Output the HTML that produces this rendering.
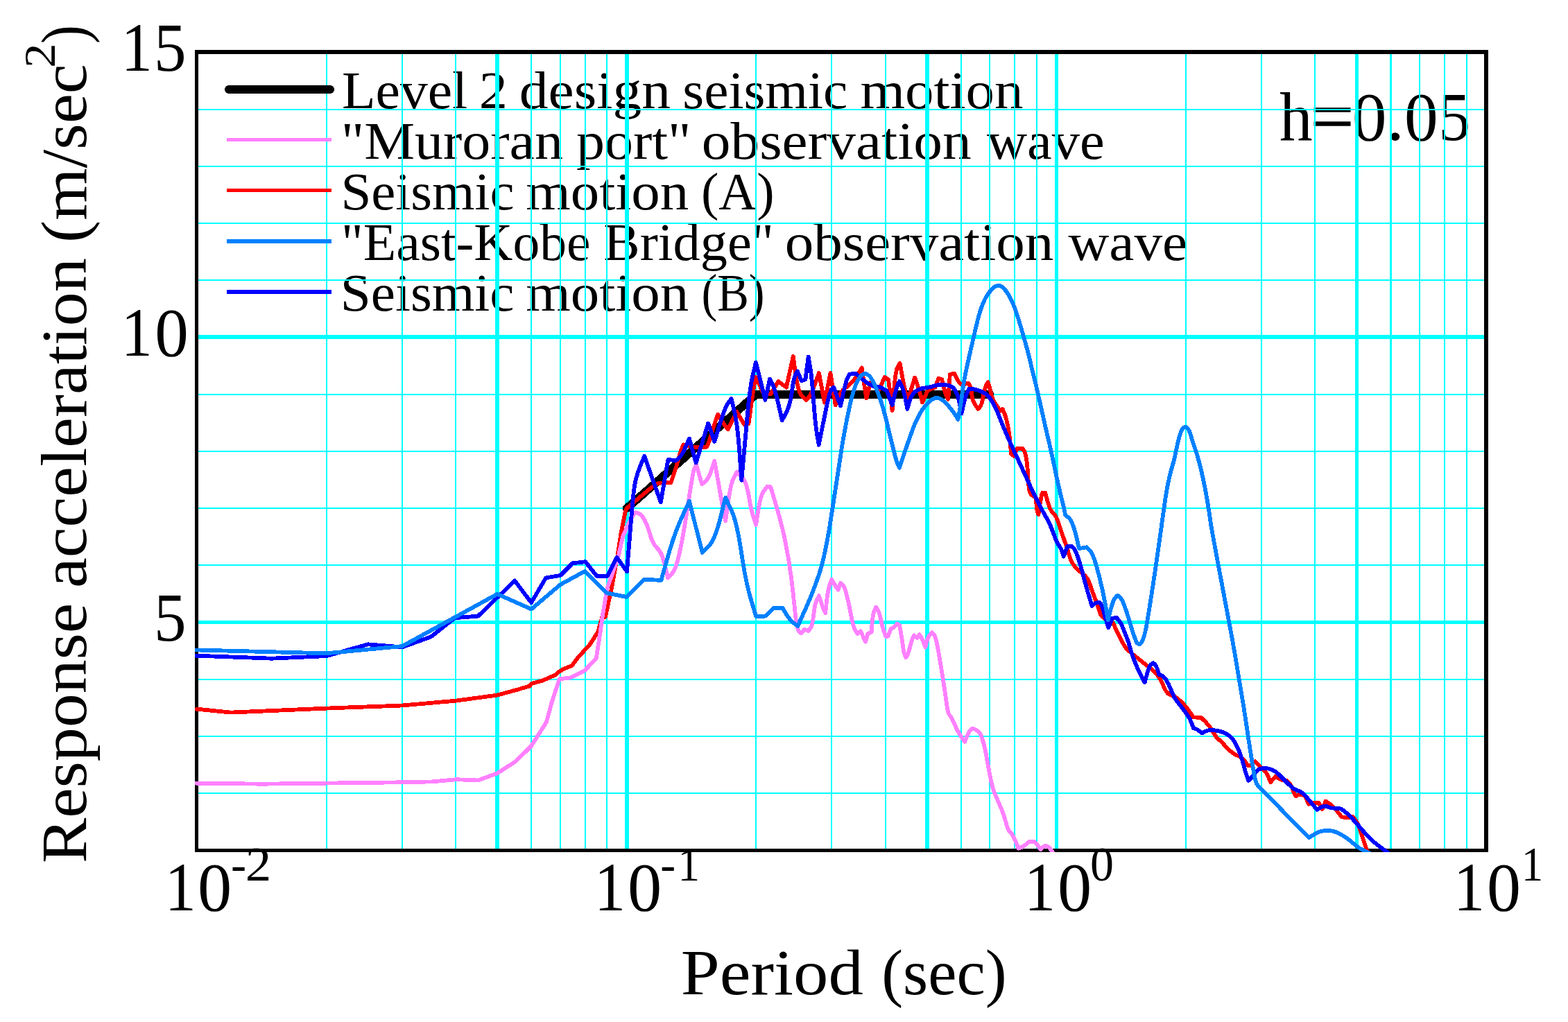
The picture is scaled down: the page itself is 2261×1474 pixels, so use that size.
<!DOCTYPE html>
<html lang="en"><head><meta charset="utf-8"><title>Response acceleration spectra (h=0.05)</title>
<style>html,body{margin:0;padding:0;background:#fff;overflow:hidden}svg{display:block}text{font-family:'Liberation Serif','DejaVu Serif',serif;fill:#000}.g rect{fill:#0ff;shape-rendering:crispEdges}.c polyline,.c path{fill:none;stroke-width:5.8;stroke-linejoin:round;stroke-linecap:butt;shape-rendering:crispEdges}</style></head><body>
<svg width="2261" height="1474" viewBox="0 0 2261 1474">
<rect width="2261" height="1474" fill="#fff"/>
<defs><clipPath id="cp"><rect x="281" y="72" width="1865" height="1157"/></clipPath></defs>
<g id="legend-text">
<text x="492.9" y="155.9" font-size="76" textLength="181.3" lengthAdjust="spacingAndGlyphs">Level</text>
<text x="690.7" y="155.9" font-size="76" textLength="41.2" lengthAdjust="spacingAndGlyphs">2</text>
<text x="748.8" y="155.9" font-size="76" textLength="218.3" lengthAdjust="spacingAndGlyphs">design</text>
<text x="984.3" y="155.9" font-size="76" textLength="238.0" lengthAdjust="spacingAndGlyphs">seismic</text>
<text x="1240.5" y="155.9" font-size="76" textLength="235.1" lengthAdjust="spacingAndGlyphs">motion</text>
<text x="491.8" y="229" font-size="76" textLength="320.1" lengthAdjust="spacingAndGlyphs">&quot;Muroran</text>
<text x="831" y="229" font-size="76" textLength="165.6" lengthAdjust="spacingAndGlyphs">port&quot;</text>
<text x="1011.8" y="229" font-size="76" textLength="388.9" lengthAdjust="spacingAndGlyphs">observation</text>
<text x="1422.9" y="229" font-size="76" textLength="169.7" lengthAdjust="spacingAndGlyphs">wave</text>
<text x="491.4" y="302.2" font-size="76" textLength="250.1" lengthAdjust="spacingAndGlyphs">Seismic</text>
<text x="758.3" y="302.2" font-size="76" textLength="235.0" lengthAdjust="spacingAndGlyphs">motion</text>
<text x="1010.9" y="302.2" font-size="76" textLength="105.8" lengthAdjust="spacingAndGlyphs">(A)</text>
<text x="492.1" y="374.8" font-size="76" textLength="359.4" lengthAdjust="spacingAndGlyphs">&quot;East-Kobe</text>
<text x="870.3" y="374.8" font-size="76" textLength="245.6" lengthAdjust="spacingAndGlyphs">Bridge&quot;</text>
<text x="1131.8" y="374.8" font-size="76" textLength="387.5" lengthAdjust="spacingAndGlyphs">observation</text>
<text x="1540.5" y="374.8" font-size="76" textLength="171.7" lengthAdjust="spacingAndGlyphs">wave</text>
<text x="490.7" y="447.7" font-size="76" textLength="250.8" lengthAdjust="spacingAndGlyphs">Seismic</text>
<text x="758.3" y="447.7" font-size="76" textLength="235.0" lengthAdjust="spacingAndGlyphs">motion</text>
<text x="1011.4" y="447.7" font-size="76" textLength="91.1" lengthAdjust="spacingAndGlyphs">(B)</text>
<text x="1845" y="201.8" font-size="100" textLength="47.5" lengthAdjust="spacingAndGlyphs">h</text>
<text x="1890" y="201.8" font-size="100" textLength="62.0" lengthAdjust="spacingAndGlyphs" stroke="#000" stroke-width="1.6">=</text>
<text x="1949.7" y="201.8" font-size="100" textLength="49.8" lengthAdjust="spacingAndGlyphs">0</text>
<text x="1998" y="201.8" font-size="100" textLength="27.5" lengthAdjust="spacingAndGlyphs">.</text>
<text x="2025" y="201.8" font-size="100" textLength="48.7" lengthAdjust="spacingAndGlyphs">0</text>
<text x="2074.5" y="201.8" font-size="100" textLength="45.7" lengthAdjust="spacingAndGlyphs">5</text>
</g>
<g class="g">
<rect x="470" y="78" width="2" height="1146"/>
<rect x="579" y="78" width="2" height="1146"/>
<rect x="656" y="78" width="2" height="1146"/>
<rect x="714" y="78" width="6" height="1146"/>
<rect x="765" y="78" width="2" height="1146"/>
<rect x="807" y="78" width="2" height="1146"/>
<rect x="843" y="78" width="2" height="1146"/>
<rect x="874" y="78" width="2" height="1146"/>
<rect x="901" y="78" width="6" height="1146"/>
<rect x="1089" y="78" width="2" height="1146"/>
<rect x="1198" y="78" width="2" height="1146"/>
<rect x="1276" y="78" width="2" height="1146"/>
<rect x="1334" y="78" width="6" height="1146"/>
<rect x="1385" y="78" width="2" height="1146"/>
<rect x="1426" y="78" width="2" height="1146"/>
<rect x="1462" y="78" width="2" height="1146"/>
<rect x="1494" y="78" width="2" height="1146"/>
<rect x="1521" y="78" width="5" height="1146"/>
<rect x="1709" y="78" width="2" height="1146"/>
<rect x="1818" y="78" width="2" height="1146"/>
<rect x="1895" y="78" width="2" height="1146"/>
<rect x="1954" y="78" width="5" height="1146"/>
<rect x="2004" y="78" width="3" height="1146"/>
<rect x="2046" y="78" width="2" height="1146"/>
<rect x="2082" y="78" width="2" height="1146"/>
<rect x="2114" y="78" width="2" height="1146"/>
<rect x="286" y="1143" width="1854" height="2"/>
<rect x="286" y="1061" width="1854" height="2"/>
<rect x="286" y="979" width="1854" height="2"/>
<rect x="286" y="895" width="1854" height="5"/>
<rect x="286" y="814" width="1854" height="2"/>
<rect x="286" y="732" width="1854" height="2"/>
<rect x="286" y="650" width="1854" height="2"/>
<rect x="286" y="568" width="1854" height="2"/>
<rect x="286" y="483" width="1854" height="6"/>
<rect x="286" y="403" width="1854" height="2"/>
<rect x="286" y="321" width="1854" height="2"/>
<rect x="286" y="239" width="1854" height="2"/>
<rect x="286" y="157" width="1854" height="2"/>
</g>
<g id="ticks">
<text x="174.7" y="101.9" font-size="100" textLength="45.0" lengthAdjust="spacingAndGlyphs">1</text>
<text x="222" y="101.9" font-size="100" textLength="46.6" lengthAdjust="spacingAndGlyphs">5</text>
<text x="174.7" y="512.9" font-size="100" textLength="45.0" lengthAdjust="spacingAndGlyphs">1</text>
<text x="223.2" y="512.9" font-size="100" textLength="48.6" lengthAdjust="spacingAndGlyphs">0</text>
<text x="222" y="924" font-size="100" textLength="46.6" lengthAdjust="spacingAndGlyphs">5</text>
<text x="237.8" y="1312.9" font-size="100" textLength="45.0" lengthAdjust="spacingAndGlyphs">1</text>
<text x="285" y="1312.9" font-size="100" textLength="49.2" lengthAdjust="spacingAndGlyphs">0</text>
<text x="333" y="1269.9" font-size="70" textLength="22.1" lengthAdjust="spacingAndGlyphs">-</text>
<text x="353.8" y="1269.9" font-size="70" textLength="37.5" lengthAdjust="spacingAndGlyphs">2</text>
<text x="857" y="1312.9" font-size="100" textLength="45.0" lengthAdjust="spacingAndGlyphs">1</text>
<text x="905" y="1312.9" font-size="100" textLength="49.2" lengthAdjust="spacingAndGlyphs">0</text>
<text x="952.3" y="1269.9" font-size="70" textLength="21.9" lengthAdjust="spacingAndGlyphs">-</text>
<text x="977.6" y="1269.9" font-size="70" textLength="31.5" lengthAdjust="spacingAndGlyphs">1</text>
<text x="1477" y="1312.9" font-size="100" textLength="45.0" lengthAdjust="spacingAndGlyphs">1</text>
<text x="1525" y="1312.9" font-size="100" textLength="49.2" lengthAdjust="spacingAndGlyphs">0</text>
<text x="1572" y="1269.9" font-size="70" textLength="34.0" lengthAdjust="spacingAndGlyphs">0</text>
<text x="2096" y="1312.9" font-size="100" textLength="45.0" lengthAdjust="spacingAndGlyphs">1</text>
<text x="2144" y="1312.9" font-size="100" textLength="49.0" lengthAdjust="spacingAndGlyphs">0</text>
<text x="2193.7" y="1269.9" font-size="70" textLength="31.5" lengthAdjust="spacingAndGlyphs">1</text>
</g>
<g fill="#000" shape-rendering="crispEdges">
<rect x="281" y="72" width="1865" height="6"/>
<rect x="281" y="1224" width="1865" height="5"/>
<rect x="281" y="72" width="5" height="1157"/>
<rect x="2140" y="72" width="6" height="1157"/>
</g>
<g class="c" clip-path="url(#cp)">
<polyline points="903.8,733.2 1090.3,568.8 1427.4,568.8" stroke="#000" style="stroke-width:12;stroke-linecap:round"/>
<path d="M281.4 1022.4L333 1027.6L470.9 1021.6L580 1017.5L656.8 1010.7L717.1 1002.6L746.3 994.6L763.6 989.5L766.6 985.9L782.9 981.4L801.2 973.2L805.3 969.2L814.4 964.1L824.6 960L833.6 948.1L850.7 929.4L862.1 911.5L868.7 888.7L872.8 890L881.4 850.9L890.6 801.1L895.6 768.3L901.3 739.8L903.4 733.4L924 715.9Q944.7 698.4 947.9 697.5Q951.2 696.5 959.3 696.2L967.5 696L970.7 686.6Q974 677.3 977.7 664.2Q981.3 651.2 983.4 646.3L985.4 641.4L993.6 643.5Q1001.7 645.5 1010.2 645.1L1018.8 644.7L1020.8 640.6Q1022.9 636.5 1026.1 625.1Q1029.4 613.7 1032.2 605.8L1035.1 597.8L1039.6 605Q1044 612.1 1046.9 615.8L1049.7 619.4L1062.4 594L1073.4 612.4L1079.5 611.1L1082.9 586.1Q1086.3 561.1 1088.1 552.5L1089.9 544L1100.3 566L1111.3 568.4L1122.3 550.1L1133.9 558.6L1143.7 514L1147.3 540Q1151 566 1156.8 571.5L1162.6 576.9L1166.3 572.7Q1169.9 568.4 1175.4 553.1L1180.9 537.9L1188.9 580.6L1197.4 537.9L1204.7 584.3L1208.4 574.5Q1212.1 564.7 1217.9 560.5Q1223.7 556.2 1228.5 551.3Q1233.4 546.4 1238 538.5L1242.6 530.5L1249.3 574.5L1255.4 551.3L1267.6 562.3L1275.6 544L1281.1 547.6L1286.6 592.2L1289 563.2Q1291.5 534.2 1294.5 529L1297.6 523.8L1300.4 539.4Q1303.2 555 1306 566.6L1308.7 578.2L1319.1 544.6L1322.1 552.8Q1325.2 561.1 1327.6 570.8L1330.1 580.6L1337.4 563.5L1348.4 558.6L1353.3 545.8L1358.2 547L1360.6 557.7Q1363.1 568.4 1365.2 572.1L1367.3 575.7L1369.8 540.3L1375.9 538.5L1379.2 545.2Q1382.6 551.9 1385 553.4L1387.5 555L1396 552.5L1398.2 555.6Q1400.3 558.6 1401.2 568.4Q1402.1 578.2 1406.3 584L1410.4 589.8L1413 587Q1415.6 584.3 1418 570.8Q1420.5 557.4 1422.6 554.4L1424.7 551.3L1425.8 555Q1426.9 558.6 1429 567.2Q1431.2 575.7 1433.6 579.4Q1436.1 583.1 1439.2 587.9L1442.4 592.8L1445.5 589.8L1447.6 594.4Q1449.8 598.9 1452.2 609.3Q1454.7 619.7 1456.5 637.4L1458.3 655.1L1462 657.6L1466.9 646.6L1474.2 646.6L1476.3 649.6Q1478.5 652.7 1480 661.8Q1481.5 671 1482.4 688.2Q1483.4 705.5 1484.9 709.5Q1486.4 713.4 1490.1 715.6L1493.7 717.7L1494.4 726.9Q1495 736 1496.2 739.1L1497.4 742.1L1499.2 729.9Q1501.1 717.7 1502 714.4L1502.9 711L1507.2 711L1509.6 719.8Q1512.1 728.7 1513.9 733Q1515.7 737.3 1519.4 740.9Q1523.1 744.6 1525.5 751.9Q1527.9 759.2 1530.4 766.6Q1532.8 773.9 1535.9 782.4Q1538.9 791 1542.1 801.8Q1545.2 812.5 1551.3 818.6Q1557.4 824.7 1562.9 829Q1568.4 833.3 1570.8 840.6Q1573.3 847.9 1576.9 857.7Q1580.6 867.5 1582.4 872.4Q1584.3 877.3 1585.5 882.1Q1586.7 887 1589.8 889.8Q1592.8 892.5 1598.9 895.3L1605 898L1606.3 901.1Q1607.5 904.1 1611.1 911.5Q1614.8 918.8 1618.5 926.1Q1622.1 933.4 1625.7 936.9Q1629.3 940.3 1635.4 945.2Q1641.5 950.1 1647.6 955Q1653.7 959.8 1659.8 964.7Q1666 969.6 1669.6 974.5Q1673.3 979.4 1677.6 989.2Q1681.8 998.9 1684.9 1000.8Q1687.9 1002.6 1691.6 1003.8Q1695.3 1005 1700.8 1009.9Q1706.3 1014.8 1709.3 1018.5Q1712.4 1022.1 1716.6 1028.2L1720.9 1034.4L1731.9 1035L1738 1040.8Q1744.1 1046.6 1748.4 1054.5Q1752.7 1062.4 1756.3 1065.5Q1760 1068.5 1766.1 1075.2Q1772.2 1081.8 1776.5 1085.1Q1780.8 1088.5 1784.4 1089.7Q1788.1 1090.9 1791.1 1093.7Q1794.2 1096.4 1796.6 1100.1L1799.1 1103.7L1802.7 1104.4L1810.1 1098.2L1813.7 1102.2Q1817.4 1106.2 1821.7 1109.8Q1826 1113.5 1829 1120.8L1832.1 1128.2L1839.4 1119.6L1843.1 1122.4Q1846.7 1125.1 1851 1125.4L1855.3 1125.7L1858.9 1129.4Q1862.6 1133.1 1863.8 1137.9Q1865 1142.8 1866.9 1145.6L1868.7 1148.3L1873.6 1145.3L1882.1 1147.7L1887 1159.9L1890.7 1158.7Q1894.4 1157.5 1898 1157.8L1901.7 1158.1L1906.6 1167.3L1911.5 1155.6L1915.1 1157.8Q1918.8 1159.9 1922.4 1163.6Q1926.1 1167.3 1930.4 1172.7L1934.7 1178.2L1938.9 1178.9Q1943.2 1179.5 1946.9 1178.9L1950.5 1178.2L1953 1180.7Q1955.4 1183.1 1957.9 1188.6Q1960.3 1194.1 1962.7 1201.5Q1965.2 1208.8 1968.2 1217.9Q1971.3 1227.1 1972.5 1230.8L1973.7 1234.4" stroke="#ff0000"/>
<path d="M281.4 1129.6L378.6 1130.7L470.9 1129.6L580 1128.3L622.9 1127.4L658.2 1124.2L689.4 1125.5L717.1 1115.2L743.2 1098.4L766.1 1076L788 1041.4L795.1 1014.9L801.2 995.6L806.8 979.3L823.1 977.4L843.4 966.8L859.7 949.7L865.4 913.1L868.5 890L875.7 848.1L884.2 823.9L891.3 803.9L898.5 772.6L902.8 763.4Q907 754.1 909.9 748.4Q912.7 742.7 914.9 740.9L917 739.1L919.9 740.2Q922.7 741.3 925.5 744.1Q928.4 747 931.2 753.4Q934.1 759.8 937.7 771.9Q941.2 784 946.9 789.7Q952.6 795.4 954.8 801.8Q956.9 808.2 960 820.9L963.1 833.6L968.8 827.4Q974.5 821.3 979.3 799.8Q984.2 778.2 988.9 748Q993.5 717.9 996.8 697.6Q1000 677.2 1002.1 673.9L1004.1 670.7L1012.2 698.4L1017.1 694.3Q1022 690.2 1026.1 677.6L1030.2 665L1033 680Q1035.9 695.1 1038.7 712.2Q1041.6 729.3 1043.8 740.3L1046.1 751.3L1050 724Q1053.8 696.7 1058.3 688.6L1062.7 680.5L1069.7 687.8Q1076.6 695.1 1079.8 715.5Q1083.1 735.8 1086.6 746.4L1090.1 757L1093.4 735.8Q1096.6 714.7 1101.5 708.1L1106.4 701.6L1111.3 702.4L1119.4 729.7Q1127.6 757 1132.4 781.4Q1137.3 805.9 1140.6 830.3Q1143.8 854.7 1146.3 880.8Q1148.7 906.8 1152 910.1L1155.2 913.4L1160.1 907.7L1165.8 910.1L1168.7 906Q1171.5 902 1173.2 886.6Q1174.9 871.3 1177.9 865.2L1181 859.1L1183.4 867Q1185.9 875 1188 879.5L1190.2 884.1L1192 867.3Q1193.8 850.5 1196.6 843.2L1199.3 835.9L1201.8 840.2Q1204.2 844.4 1206.3 847.5L1208.5 850.5L1212.1 840.8L1214.9 843.2Q1217.6 845.6 1220.7 857.3Q1223.7 868.9 1226.2 882.3Q1228.6 895.7 1230.5 901.8Q1232.3 907.9 1234.4 911L1236.6 914L1240.8 910.4L1248.2 925.6L1251.2 914L1256.7 911.6L1257.6 898.8Q1258.5 886 1260.8 880.8L1263.1 875.6L1265.4 878.9Q1267.7 882.3 1270.2 893.9Q1272.6 905.5 1275 911.9L1277.5 918.3L1280.5 917.7L1284.8 906.7L1287.6 905.5Q1290.3 904.3 1291.8 901.8L1293.4 899.4L1297 901.8L1298.9 911.6Q1300.7 921.4 1301.9 931.1Q1303.1 940.9 1304.7 944.6L1306.2 948.2L1307.7 946.4Q1309.2 944.6 1311.7 934.8Q1314.1 925 1316 920.8L1317.8 916.5L1322.7 920.2L1325.7 915.3L1327.9 918.3Q1330 921.4 1332.1 927.5L1334.3 933.6L1336.4 925.6Q1338.5 917.7 1341.3 915L1344 912.2L1346.2 914.4Q1348.3 916.5 1350.2 924.4Q1352 932.4 1353.8 943.4Q1355.6 954.4 1357.5 965.3Q1359.3 976.3 1361.1 988.2Q1363 1000 1364.9 1014.6Q1366.9 1029.1 1369.3 1031.5Q1371.8 1034 1374.6 1040.5Q1377.4 1047 1380.7 1053.5Q1384 1060 1387.6 1064.9L1391.3 1069.8L1393.7 1063.3Q1396.2 1056.8 1398.6 1053.9L1401.1 1051.1L1403.1 1051.1Q1405.1 1051.1 1409.2 1053.9Q1413.3 1056.8 1415.3 1062.5Q1417.3 1068.2 1419.4 1076.3Q1421.4 1084.4 1423 1094.2Q1424.7 1104 1426.7 1114.6Q1428.7 1125.1 1430.8 1133.3Q1432.8 1141.4 1438.5 1154Q1444.2 1166.7 1446.6 1173.6Q1449.1 1180.5 1451.1 1188.6Q1453.2 1196.8 1456 1199.2Q1458.9 1201.7 1461.3 1206.6Q1463.7 1211.4 1466.2 1217.5L1468.6 1223.6L1471.1 1222.8Q1473.5 1222 1476 1220.4Q1478.4 1218.8 1481.2 1216.3L1484.1 1213.9L1491.4 1213.9L1493.9 1216.3Q1496.3 1218.8 1498.3 1222L1500.4 1225.3L1502.4 1223.2Q1504.4 1221.2 1506.1 1220.4L1507.7 1219.6L1509.7 1220.4Q1511.8 1221.2 1514.2 1224.1Q1516.7 1226.9 1518.7 1230.6L1520.7 1234.2" stroke="#ff80ff"/>
<path d="M281.4 945.6L392.1 949.7L470.9 946.1L530.6 929.3L580 933.4L621.5 918.4L655.5 891.3L689.4 888.6L742.3 837.5L766.1 869.1L787.2 833.3L808.1 830L825.5 812.4L844.2 810.2L860.5 830.8L876 830.8L889.5 804L904 824.3L908.1 773.6Q912.1 722.9 914.2 706.2Q916.2 689.5 922.7 673.6L929.2 657.7L952.8 724.5L963.4 662.9L974.8 664.2L979.3 660.2Q983.8 656.1 988.8 644.3L993.9 632.5L1003.6 667.5L1021.2 610.5L1030.2 636.9L1037.9 611.9Q1045.7 586.9 1050.1 580.9L1054.6 575L1059.1 594.4Q1063.6 613.7 1066.4 653.2L1069.3 692.7L1072.1 661.4Q1075 630 1078.1 595Q1081.2 560 1085.5 541.3L1089.9 522.6L1103.4 576.9L1110.1 546.4L1113.7 553.7Q1117.4 561.1 1122.6 583.7L1127.8 606.3L1133.6 595.3Q1139.4 584.3 1141.8 565.3Q1144.3 546.4 1147 540.9L1149.8 535.4L1155.9 549.5L1161.4 547L1165.6 514.7L1168.1 528.7Q1170.5 542.7 1173 576.3Q1175.4 609.9 1178 625.8L1180.7 641.7L1185.1 619.7Q1189.5 597.7 1193.1 580.6Q1196.8 563.5 1199.5 561.1L1202.3 558.6L1212.1 585.5L1216 567.2Q1220 548.9 1222.4 544.3L1224.9 539.7L1233.4 538.5L1238.3 542.7Q1243.2 547 1250.5 552.2Q1257.9 557.4 1262.7 557.4Q1267.6 557.4 1273.1 560.5L1278.6 563.5L1286.6 584.3L1289.9 570.8Q1293.3 557.4 1295.1 553.7L1296.9 550.1L1299.8 555.6Q1302.6 561.1 1305.5 575.4L1308.3 589.8L1310.7 581.5Q1313 573.3 1316 569Q1319.1 564.7 1324 562.3Q1328.9 559.8 1335 559.2Q1341.1 558.6 1347.2 556.5Q1353.3 554.4 1361.8 555Q1370.4 555.6 1374 558.9Q1377.7 562.3 1380.2 569Q1382.6 575.7 1384.5 586.1L1386.5 596.5L1389.4 583.7Q1392.4 570.8 1394.8 565.6L1397.3 560.5L1400.9 560.8Q1404.6 561.1 1409.5 562.6Q1414.4 564.1 1418.6 566.3Q1422.9 568.4 1427.2 573.9Q1431.5 579.4 1435.1 587.3Q1438.8 595.3 1443.1 606.3Q1447.3 617.3 1451.6 627Q1455.9 636.8 1459.5 644.7Q1463.2 652.7 1468.7 664.4Q1474.2 676.2 1480.3 689.6Q1486.4 703.1 1492.5 715.9Q1498.6 728.7 1505.3 740.3Q1512.1 751.9 1515.1 759.2Q1518.2 766.6 1521.2 775.1Q1524.3 783.7 1527.3 787.3Q1530.4 791 1532 796.9L1533.6 802.7L1539.1 788.1L1545.2 787.5L1547.6 789.9Q1550.1 792.4 1552.5 798.8Q1555 805.2 1558 815.6Q1561.1 826 1563.5 835.7Q1566 845.5 1568.4 853.4Q1570.8 861.4 1572.7 867.8L1574.5 874.2L1576.9 871.8Q1579.4 869.3 1582.4 869L1585.5 868.7L1587.3 871.1Q1589.2 873.6 1591.6 882.7Q1594 891.9 1596.2 898.6L1598.3 905.3L1603.8 891.9L1609.9 890.7L1613 894.4Q1616 898 1619.1 905.3Q1622.1 912.7 1625.2 920.6Q1628.2 928.5 1629.4 933.8Q1630.5 939.1 1634.2 948.9Q1637.9 958.6 1641.5 966.6Q1645.2 974.5 1647.9 979.4L1650.7 984.3L1652.8 976.3Q1655 968.4 1656.8 963.5Q1658.6 958.6 1660.8 957.4L1662.9 956.2L1665 958Q1667.2 959.8 1669.3 966.6L1671.5 973.3L1674.2 973.9Q1676.9 974.5 1679.4 977.6Q1681.8 980.6 1684.9 986.7Q1687.9 992.8 1690.4 999.5Q1692.8 1006.3 1698.3 1013Q1703.8 1019.7 1706.9 1024Q1709.9 1028.2 1713 1032.5Q1716 1036.8 1718.5 1043.5L1720.9 1050.2L1723.4 1050.8Q1725.8 1051.5 1729.5 1054.5L1733.1 1057.6L1737.4 1055.1Q1741.7 1052.7 1747.2 1053Q1752.7 1053.3 1758.2 1054.5Q1763.7 1055.7 1768.5 1058.5Q1773.4 1061.2 1776.5 1064.9Q1779.5 1068.5 1780.8 1070.9Q1782 1073.2 1784.4 1078.1Q1786.9 1083 1789.3 1090.3Q1791.8 1097.6 1794.2 1106.8Q1796.6 1116 1798.5 1120.8L1800.3 1125.7L1803.4 1122.7Q1806.4 1119.6 1809.5 1115.3Q1812.5 1111.1 1815.6 1109.5Q1818.6 1108 1822.9 1108Q1827.2 1108 1830.2 1108.9Q1833.3 1109.8 1836.9 1111.7Q1840.6 1113.5 1846.7 1119.6Q1852.8 1125.7 1858.9 1131.8Q1865 1137.9 1868.7 1139.2Q1872.4 1140.4 1876 1142.5Q1879.7 1144.7 1884.6 1150.5Q1889.5 1156.3 1894.4 1162.1L1899.2 1167.9L1902.9 1165.4Q1906.6 1163 1909.6 1162.7Q1912.7 1162.4 1916.3 1164.2Q1920 1166 1925.5 1165.7Q1931 1165.4 1934 1166.9Q1937.1 1168.5 1943.2 1174Q1949.3 1179.5 1955.4 1186.8Q1961.5 1194.1 1967.6 1200.8Q1973.7 1207.6 1976.8 1210.6Q1979.8 1213.7 1988.4 1220.1Q1996.9 1226.5 2003.1 1231.1L2009.2 1235.6" stroke="#0000ff"/>
<path d="M281.4 937.4L470.9 942.3L580 932L717.1 856.8L766.1 878.6L808.1 843.1L843.4 823.8L875.2 855.3L903.7 861L928.9 835.7L953.4 836.9L963.1 802.6Q972.8 768.4 983.4 745.6L994 722.8L1012.7 796.9L1021.7 787.9Q1030.7 779 1038.4 748.5L1046.1 717.9L1054.3 735Q1062.4 752.1 1068.9 796.1Q1075.4 840.1 1082.8 864.5L1090.1 888.9L1103.9 888.6L1116.2 876.7L1128.4 876.7L1133.7 885.7Q1139 894.6 1144.7 898.7L1150.4 902.8L1160.9 879.6Q1171.5 856.4 1180.9 828.7Q1190.3 801 1199.3 740.5Q1208.4 680 1213.6 647.4Q1218.8 614.8 1224.9 587.3Q1231 559.8 1235.9 550.7Q1240.8 541.5 1244.1 540L1247.5 538.5L1251.5 540.6Q1255.4 542.7 1260.3 553.1Q1265.2 563.5 1270.1 578.2Q1275 592.8 1279.8 613.6Q1284.7 634.4 1288.4 649Q1292.1 663.7 1294.5 669.2L1296.9 674.7L1303.1 656.3Q1309.3 638 1314.8 622.7Q1320.3 607.5 1325.8 597.7Q1331.3 587.9 1337.4 581.8Q1343.5 575.7 1347.2 574.5Q1350.8 573.3 1354.5 574.5Q1358.2 575.7 1363.1 580.6Q1367.9 585.5 1372.2 591Q1376.5 596.5 1378.9 600.8L1381.4 605L1383.8 591.6Q1386.3 578.2 1388.1 563.5Q1389.9 548.9 1393 534.8Q1396 520.8 1400 503.5Q1404 486.3 1407.6 470.4Q1411.3 454.5 1415 444.1Q1418.6 433.7 1422.6 427.3Q1426.6 420.9 1430.5 416.9Q1434.5 413 1436.9 412.4Q1439.4 411.8 1441.8 412.2Q1444.3 412.7 1447.9 416.5Q1451.6 420.3 1454.7 425.8Q1457.7 431.3 1461.4 439.8Q1465 448.4 1468.7 460.6Q1472.4 472.8 1476.6 487.5Q1480.9 502.1 1484.6 517.4Q1488.2 532.7 1491.6 546.4Q1495 560 1501.7 590Q1508.4 620 1512.1 635.3Q1515.7 650.5 1519.4 668.2Q1523.1 686 1526.1 699.4Q1529.2 712.8 1532.2 725Q1535.3 737.3 1535.6 740L1535.9 742.7L1539.2 745.2Q1542.6 747.6 1544.4 751Q1546.3 754.4 1548.4 761.1Q1550.5 767.8 1553.3 779.4L1556 791L1567.2 789.3L1570.2 792.4Q1573.3 795.4 1575.7 800.9Q1578.2 806.4 1580.6 815Q1583.1 823.5 1586.1 835.7Q1589.2 847.9 1591.6 860.2Q1594 872.4 1595.9 883.4L1597.7 894.4L1599.8 885.8Q1602 877.3 1604.1 870.5Q1606.3 863.8 1608.7 861.4L1611.1 858.9L1613.6 860.2Q1616 861.4 1619.1 868.1Q1622.1 874.8 1625.2 884.6Q1628.2 894.4 1631.3 904.7Q1634.4 915.1 1636.8 921.2L1639.2 927.3L1642.9 929.2L1645.3 927Q1647.8 924.9 1650.2 915.7Q1652.7 906.6 1655.1 891.3Q1657.6 876 1660 860.8Q1662.4 845.5 1664.9 828.4Q1667.3 811.3 1669.8 794.8Q1672.2 778.3 1675.7 752.4Q1679.2 726.6 1681.4 713.1Q1683.5 699.7 1686 689.3Q1688.4 678.9 1690.8 671Q1693.3 663.1 1695.7 650.8Q1698.2 638.6 1700.6 630.1Q1703.1 621.5 1704.9 619.1Q1706.7 616.6 1708.2 616.2L1709.8 615.7L1711.3 616.5Q1712.8 617.3 1714.7 621.2Q1716.5 625.2 1718.3 631.9Q1720.2 638.6 1723.2 647.2Q1726.3 655.7 1729.3 667.3Q1732.4 678.9 1734.8 690.5Q1737.3 702.1 1739.1 711.9Q1740.9 721.7 1742.4 731.5Q1744 741.2 1745.2 750.6Q1746.4 760 1759.6 830Q1772.8 900 1776.2 918.3Q1779.5 936.6 1782.6 955Q1785.6 973.3 1788.7 991.6Q1791.8 1009.9 1794.2 1025.2Q1796.6 1040.5 1799.1 1057.4Q1801.5 1074.4 1804 1089.7Q1806.4 1105 1808.2 1115.3Q1810.1 1125.7 1811.6 1129.4Q1813.1 1133.1 1823.2 1142.8Q1833.3 1152.6 1845.5 1165.4Q1857.7 1178.2 1872.7 1193.2L1887.6 1208.2L1892.8 1204.8Q1898 1201.5 1902.3 1199.7Q1906.6 1198 1914.5 1198Q1922.4 1198 1928.5 1201Q1934.7 1203.9 1940.2 1207.6Q1945.6 1211.2 1951.8 1216.7Q1957.9 1222.2 1962.7 1224.7Q1967.6 1227.1 1973.7 1230.2L1979.8 1233.2" stroke="#0080ff"/>
</g>
<g id="legend-lines" shape-rendering="crispEdges">
<line x1="330" y1="129" x2="476" y2="129" stroke="#000" stroke-width="12" stroke-linecap="round"/>
<rect x="327" y="199" width="151" height="5" fill="#ff80ff"/>
<rect x="327" y="272" width="151" height="5" fill="#ff0000"/>
<rect x="327" y="345" width="151" height="6" fill="#0080ff"/>
<rect x="327" y="418" width="151" height="6" fill="#0000ff"/>
</g>
<g id="xlabel">
<text x="981.8" y="1434" font-size="93.7" textLength="263.1" lengthAdjust="spacingAndGlyphs">Period</text>
<text x="1271.2" y="1434" font-size="93.7" textLength="180.5" lengthAdjust="spacingAndGlyphs">(sec)</text>
</g>
<g id="ylabel" transform="translate(124.4,1241.9) rotate(-90)">
<text x="-3.1" y="0" font-size="93.7" textLength="375.2" lengthAdjust="spacingAndGlyphs">Response</text>
<text x="393.8" y="0" font-size="93.7" textLength="476.2" lengthAdjust="spacingAndGlyphs">acceleration</text>
<text x="892" y="0" font-size="93.7" textLength="257.6" lengthAdjust="spacingAndGlyphs">(m/sec</text>
<text x="1143.9" y="-45.6" font-size="64" textLength="35.6" lengthAdjust="spacingAndGlyphs">2</text>
<text x="1178.9" y="0" font-size="93.7" textLength="26.8" lengthAdjust="spacingAndGlyphs">)</text>
</g>
</svg></body></html>
